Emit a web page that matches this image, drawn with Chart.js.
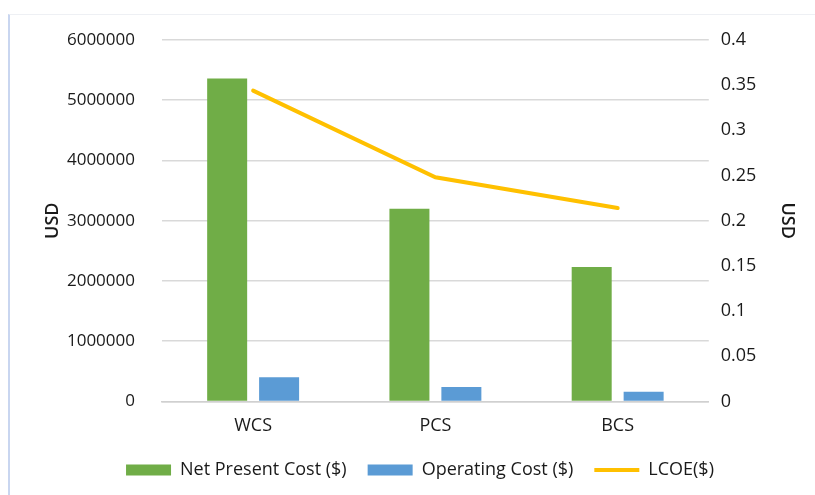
<!DOCTYPE html>
<html>
<head>
<meta charset="utf-8">
<script src="https://cdn.jsdelivr.net/npm/chart.js@4.4.0/dist/chart.umd.min.js"></script>
<style>
    html, body { margin: 0; padding: 0; background: #fff; }
    #frame {
        position: absolute; left: 8px; top: 14px; width: 807px; height: 481px;
        border-top: 1px solid #eef0f4; border-left: 2px solid #c9d6f0;
    }
    #wrap { position: absolute; left: 0; top: 0; width: 815px; height: 495px; }
</style>
</head>
<body>
<div id="frame"></div>
<div id="wrap"><canvas id="chart"></canvas></div>
<script>
// ===================================
// Cost comparison chart
// ===================================

const categories = ['WCS', 'PCS', 'BCS'];
const netPresentCost = [5360000, 3200000, 2230000];
const operatingCost = [400000, 240000, 160000];
const lcoe = [0.344, 0.248, 0.214];

const FONT = '"Open Sans", Lato, sans-serif';
const TEXT = '#1a1a1a';
const FONT_SIZE = 18;

// Pull the legend up a bit (its label padding also sets the horizontal gaps)
const legendLift = {
    id: 'legendLift',
    afterLayout(chart) {
        const legend = chart.legend;
        if (legend) {
            legend.top -= 11;
            legend.bottom -= 11;
        }
    }
};

const ctx = document.getElementById('chart').getContext('2d');

new Chart(ctx, {
    type: 'bar',
    data: {
        labels: categories,
        datasets: [
            {
                label: 'Net Present Cost ($)',
                data: netPresentCost,
                backgroundColor: '#70ad47',
                pointStyle: 'rect',
                yAxisID: 'y',
                order: 2
            },
            {
                label: 'Operating Cost ($)',
                data: operatingCost,
                backgroundColor: '#5b9bd5',
                pointStyle: 'rect',
                yAxisID: 'y',
                order: 3
            },
            {
                type: 'line',
                label: 'LCOE($)',
                data: lcoe,
                borderColor: '#ffc000',
                backgroundColor: '#ffc000',
                borderWidth: 4,
                borderCapStyle: 'round',
                pointRadius: 0,
                pointStyle: 'line',
                tension: 0,
                yAxisID: 'y1',
                order: 1
            }
        ]
    },
    options: {
        responsive: true,
        maintainAspectRatio: false,
        animation: false,
        categoryPercentage: 0.57,
        barPercentage: 0.77,
        layout: {
            padding: { left: 42, right: 17, top: 40, bottom: -5 }
        },
        plugins: {
            legend: {
                position: 'bottom',
                labels: {
                    usePointStyle: true,
                    pointStyleWidth: 45,
                    boxHeight: 11,
                    padding: 21,
                    color: TEXT,
                    font: { family: FONT, size: FONT_SIZE },
                    sort: (a, b) => a.datasetIndex - b.datasetIndex
                }
            },
            tooltip: { enabled: false }
        },
        scales: {
            x: {
                grid: { display: false, drawTicks: false },
                border: { color: '#d0d0d0', width: 1.5 },
                ticks: {
                    color: TEXT,
                    padding: 14,
                    font: { family: FONT, size: FONT_SIZE }
                }
            },
            y: {
                position: 'left',
                min: 0,
                max: 6000000,
                afterFit: (scale) => { scale.width = 120; },
                grid: { color: '#d9d9d9', lineWidth: 1.5, drawTicks: false },
                border: { display: false },
                ticks: {
                    stepSize: 1000000,
                    padding: 27,
                    color: TEXT,
                    font: { family: FONT, size: 17 },
                    callback: (value) => String(value)
                },
                title: {
                    display: true,
                    text: 'USD',
                    color: TEXT,
                    padding: 0,
                    font: { family: FONT, size: FONT_SIZE, weight: '600' }
                }
            },
            y1: {
                position: 'right',
                min: 0,
                max: 0.4,
                grid: { display: false, drawTicks: false },
                border: { display: false },
                ticks: {
                    stepSize: 0.05,
                    padding: 12,
                    color: TEXT,
                    font: { family: FONT, size: FONT_SIZE },
                    callback: (value) => String(Math.round(value * 100) / 100)
                },
                title: {
                    display: true,
                    text: 'USD',
                    color: TEXT,
                    padding: { top: 0, bottom: 8 },
                    font: { family: FONT, size: FONT_SIZE, weight: '600' }
                }
            }
        }
    },
    plugins: [legendLift]
});
</script>
</body>
</html>
